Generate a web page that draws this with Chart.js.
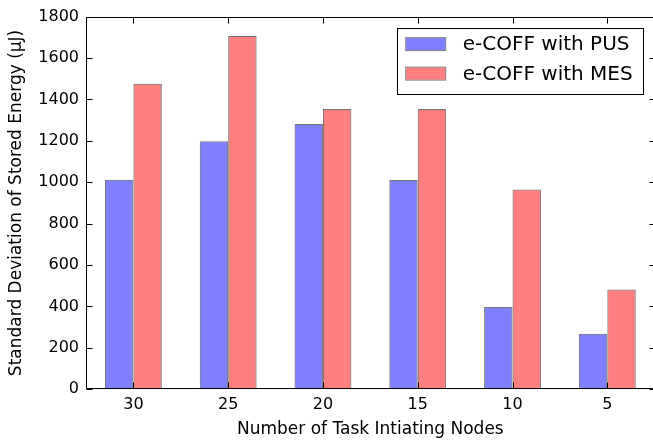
<!DOCTYPE html>
<html>
<head>
<meta charset="utf-8">
<script src="https://cdn.jsdelivr.net/npm/chart.js@4.4.1/dist/chart.umd.min.js"></script>
<style>
  html, body { margin: 0; padding: 0; overflow: hidden; background: #fff; }
  #wrap { position: relative; width: 660px; height: 444px; }
</style>
</head>
<body>
<div id="wrap"><canvas id="c"></canvas></div>
<script>
// ---- data ----
const categories = ['30', '25', '20', '15', '10', '5'];
const pusValues = [1012, 1198, 1281, 1011, 398, 268];
const mesValues = [1476, 1706, 1354, 1354, 965, 482];
const seriesNames = ['e-COFF with PUS', 'e-COFF with MES'];
const yTicks = [0, 200, 400, 600, 800, 1000, 1200, 1400, 1600, 1800];

const FONT = "'DejaVu Sans', sans-serif";

// frame + inward ticks (matplotlib classic look), drawn above bars
const framePlugin = {
  id: 'frame',
  afterDatasetsDraw(chart) {
    const ctx = chart.ctx, a = chart.chartArea;
    const xs = chart.scales.x, ys = chart.scales.y;
    const L = Math.round(a.left) + 0.5, R = Math.round(a.right) + 0.5;
    const T = Math.round(a.top) + 0.5, B = Math.round(a.bottom) - 0.5;
    const TL = 6;
    ctx.save();
    ctx.strokeStyle = '#000';
    ctx.lineWidth = 1;
    ctx.beginPath();
    ctx.rect(L, T, R - L, B - T);
    categories.forEach((c, i) => {
      const px = Math.round(xs.getPixelForValue(i)) + 0.5;
      ctx.moveTo(px, T); ctx.lineTo(px, T + TL);
      ctx.moveTo(px, B); ctx.lineTo(px, B - TL);
    });
    yTicks.forEach(v => {
      const py = Math.round(ys.getPixelForValue(v)) + 0.5;
      ctx.moveTo(L, py); ctx.lineTo(L + TL, py);
      ctx.moveTo(R, py); ctx.lineTo(R - TL, py);
    });
    ctx.stroke();
    ctx.restore();
  }
};

// matplotlib-style legend box in upper right of axes
const legendPlugin = {
  id: 'mplLegend',
  afterDatasetsDraw(chart) {
    const ctx = chart.ctx, a = chart.chartArea;
    const boxR = a.right - 11.5, boxT = a.top + 11;
    const boxW = 246, boxH = 66;
    const boxL = boxR - boxW;
    ctx.save();
    ctx.fillStyle = '#fff';
    ctx.fillRect(boxL, boxT, boxW, boxH);
    ctx.strokeStyle = '#000';
    ctx.lineWidth = 1;
    ctx.strokeRect(Math.round(boxL) + 0.5, Math.round(boxT) + 0.5, Math.round(boxW), Math.round(boxH));
    ctx.font = '20px ' + FONT;
    ctx.textBaseline = 'middle';
    ctx.textAlign = 'left';
    chart.data.datasets.forEach((ds, i) => {
      const cy = boxT + 16.5 + i * 29.5;
      const px = boxL + 8, pw = 41, ph = 14;
      ctx.fillStyle = 'rgba(0,0,0,0.5)';
      ctx.fillRect(px, cy - ph / 2, pw, ph);
      ctx.fillStyle = '#fff';
      ctx.fillRect(px + 1, cy - ph / 2 + 1, pw - 2, ph - 2);
      ctx.fillStyle = ds.backgroundColor;
      ctx.fillRect(px + 1, cy - ph / 2 + 1, pw - 2, ph - 2);
      ctx.fillStyle = '#000';
      ctx.fillText(ds.label, boxL + 65.5, cy + 1);
    });
    ctx.restore();
  }
};

new Chart(document.getElementById('c'), {
  type: 'bar',
  data: {
    labels: categories,
    datasets: [
      {
        label: seriesNames[0],
        data: pusValues,
        backgroundColor: 'rgba(0,0,255,0.5)',
        borderColor: 'rgba(0,0,0,0.55)',
        borderWidth: 1,
        borderSkipped: false,
        categoryPercentage: 0.6,
        barPercentage: 1.0
      },
      {
        label: seriesNames[1],
        data: mesValues,
        backgroundColor: 'rgba(255,0,0,0.5)',
        borderColor: 'rgba(0,0,0,0.55)',
        borderWidth: 1,
        borderSkipped: false,
        categoryPercentage: 0.6,
        barPercentage: 1.0
      }
    ]
  },
  options: {
    responsive: true,
    maintainAspectRatio: false,
    devicePixelRatio: 1,
    animation: false,
    layout: { padding: { top: 11, right: 5.3, left: 0, bottom: 0 } },
    plugins: {
      legend: { display: false },
      tooltip: { enabled: false },
      title: { display: false }
    },
    scales: {
      x: {
        type: 'category',
        offset: true,
        grid: { display: false, drawTicks: false },
        border: { display: false },
        ticks: { color: '#000', font: { family: FONT, size: 16 }, padding: 6, maxRotation: 0 },
        title: {
          display: true,
          text: 'Number of Task Intiating Nodes',
          color: '#000',
          font: { family: FONT, size: 17 },
          padding: { top: 0, bottom: 4 }
        },
        afterFit(s) { s.height = 54.7; }
      },
      y: {
        min: 0,
        max: 1800,
        afterBuildTicks(s) { s.ticks = yTicks.map(v => ({ value: v })); },
        grid: { display: false, drawTicks: false },
        border: { display: false },
        ticks: {
          color: '#000',
          font: { family: FONT, size: 16 },
          padding: 7,
          callback: (v) => String(v)
        },
        title: {
          display: true,
          text: 'Standard Deviation of Stored Energy (μJ)',
          color: '#000',
          font: { family: FONT, size: 17 },
          padding: { top: 6, bottom: 0 }
        },
        afterFit(s) { s.width = 86; }
      }
    }
  },
  plugins: [framePlugin, legendPlugin]
});
</script>
</body>
</html>
